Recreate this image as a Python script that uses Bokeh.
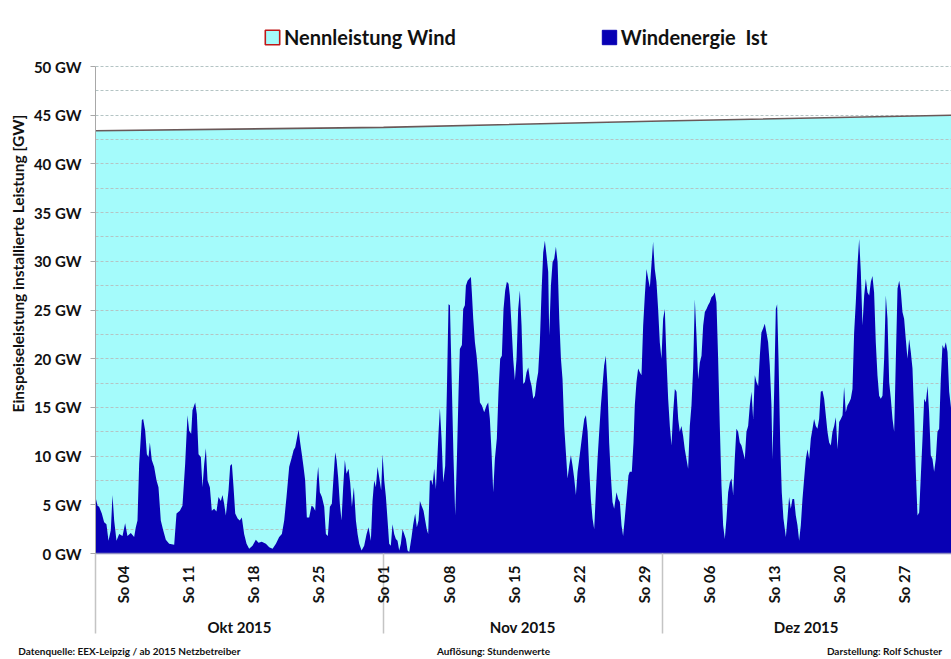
from math import pi
from bokeh.plotting import figure
from bokeh.models import (Range1d, FixedTicker, LinearAxis, PrintfTickFormatter,
                          Legend, LegendItem, Title)
from bokeh.embed import file_html
from bokeh.resources import INLINE

# ---------------- data (days since 1 Oct 2015 00:00, GW) ----------------
wind_day = [
    0.0, 0.22, 0.39, 0.68, 0.93, 1.18, 1.4, 1.65, 1.83, 2.01, 2.26, 2.55, 2.91, 3.19, 3.44, 3.8,
    4.16, 4.34, 4.52, 4.7, 4.99, 5.13, 5.35, 5.53, 5.71, 5.85, 6.06, 6.31, 6.57, 6.78, 7.03, 7.28,
    7.57, 7.93, 8.47, 8.72, 9.08, 9.36, 9.65, 9.9, 10.08, 10.3, 10.44, 10.73, 10.91, 11.09, 11.34,
    11.52, 11.7, 11.88, 12.06, 12.31, 12.52, 12.77, 13.02, 13.24, 13.49, 13.67, 13.85, 14.03, 14.32,
    14.5, 14.68, 14.86, 15.04, 15.3, 15.53, 15.75, 16.0, 16.26, 16.54, 16.9, 17.26, 17.55, 17.9,
    18.34, 18.7, 19.06, 19.42, 19.77, 20.06, 20.31, 20.56, 20.85, 21.14, 21.32, 21.5, 21.68, 21.86,
    22.03, 22.21, 22.39, 22.57, 22.75, 23.0, 23.25, 23.43, 23.65, 23.83, 23.97, 24.15, 24.37, 24.62,
    24.8, 25.01, 25.23, 25.44, 25.62, 25.8, 25.95, 26.12, 26.3, 26.48, 26.66, 26.84, 27.02, 27.24,
    27.42, 27.6, 27.81, 28.03, 28.21, 28.39, 28.64, 28.92, 29.18, 29.39, 29.64, 29.82, 30.0, 30.18,
    30.36, 30.54, 30.75, 30.9, 31.08, 31.26, 31.44, 31.61, 31.79, 31.97, 32.15, 32.33, 32.51, 32.69,
    32.87, 33.05, 33.23, 33.41, 33.59, 33.77, 34.02, 34.2, 34.41, 34.59, 34.77, 34.92, 35.1, 35.31,
    35.49, 35.67, 35.81, 35.99, 36.17, 36.28, 36.46, 36.64, 36.93, 37.07, 37.25, 37.43, 37.64, 37.82,
    38.0, 38.15, 38.33, 38.54, 38.72, 38.9, 39.08, 39.22, 39.44, 39.58, 39.76, 39.87, 40.05, 40.23,
    40.41, 40.51, 40.66, 40.84, 41.02, 41.2, 41.38, 41.59, 41.84, 42.09, 42.27, 42.45, 42.63, 42.81,
    42.99, 43.2, 43.38, 43.56, 43.74, 43.92, 44.1, 44.28, 44.46, 44.6, 44.78, 44.96, 45.14, 45.32,
    45.5, 45.68, 45.86, 46.04, 46.22, 46.4, 46.58, 46.76, 46.94, 47.12, 47.3, 47.47, 47.65, 47.83,
    48.01, 48.19, 48.37, 48.55, 48.73, 48.84, 49.02, 49.2, 49.38, 49.56, 49.74, 49.92, 50.1, 50.27,
    50.45, 50.63, 50.81, 50.99, 51.17, 51.35, 51.53, 51.71, 51.89, 52.07, 52.25, 52.43, 52.61, 52.79,
    52.97, 53.14, 53.32, 53.5, 53.68, 53.86, 54.04, 54.22, 54.4, 54.57, 54.75, 54.93, 55.11, 55.29,
    55.47, 55.65, 55.83, 56.08, 56.26, 56.44, 56.62, 56.79, 56.97, 57.15, 57.37, 57.51, 57.73, 57.91,
    58.05, 58.23, 58.41, 58.59, 58.77, 58.95, 59.13, 59.31, 59.49, 59.67, 59.84, 60.02, 60.2, 60.38,
    60.56, 60.74, 60.92, 61.1, 61.28, 61.46, 61.64, 61.82, 62.0, 62.18, 62.36, 62.54, 62.72, 62.89,
    63.07, 63.25, 63.43, 63.61, 63.79, 63.97, 64.15, 64.33, 64.51, 64.69, 64.87, 65.05, 65.23, 65.41,
    65.59, 65.77, 65.94, 66.12, 66.3, 66.48, 66.66, 66.84, 67.02, 67.2, 67.38, 67.56, 67.74, 67.92,
    68.1, 68.28, 68.46, 68.64, 68.81, 68.99, 69.17, 69.35, 69.53, 69.71, 69.89, 70.07, 70.25, 70.43,
    70.61, 70.79, 70.97, 71.15, 71.33, 71.51, 71.68, 71.86, 72.04, 72.22, 72.4, 72.58, 72.76, 72.87,
    73.05, 73.23, 73.37, 73.52, 73.7, 73.87, 74.05, 74.31, 74.48, 74.66, 74.84, 75.02, 75.2, 75.38,
    75.56, 75.74, 75.92, 76.1, 76.28, 76.46, 76.64, 76.82, 77.0, 77.18, 77.35, 77.53, 77.71, 77.89,
    78.07, 78.25, 78.43, 78.61, 78.79, 78.97, 79.15, 79.33, 79.51, 79.69, 79.87, 80.05, 80.23, 80.41,
    80.58, 80.76, 80.94, 81.12, 81.3, 81.48, 81.66, 81.84, 82.02, 82.2, 82.38, 82.56, 82.74, 82.92,
    83.1, 83.28, 83.46, 83.63, 83.81, 83.99, 84.17, 84.35, 84.53, 84.71, 84.89, 85.07, 85.25, 85.43,
    85.61, 85.79, 85.97, 86.15, 86.33, 86.51, 86.68, 86.86, 87.04, 87.22, 87.4, 87.58, 87.76, 87.94,
    88.12, 88.3, 88.48, 88.66, 88.84, 89.02, 89.2, 89.38, 89.56, 89.73, 89.91, 90.09, 90.27, 90.45,
    90.63, 90.81, 90.99, 91.17, 91.35, 91.53, 91.71, 91.89, 92.14,
]
wind_gw = [
    5.8, 4.9, 4.8, 4.1, 3.2, 3.0, 1.3, 2.4, 6.0, 3.4, 1.3, 2.0, 1.8, 3.1, 1.8, 2.1,
    1.7, 2.7, 3.4, 9.2, 13.7, 13.8, 12.6, 10.2, 9.9, 11.4, 9.6, 8.9, 7.5, 6.8, 3.4, 2.4,
    1.4, 1.0, 0.9, 4.1, 4.4, 4.9, 9.2, 14.2, 12.6, 12.3, 14.7, 15.5, 14.3, 10.2, 9.9,
    6.8, 9.2, 10.8, 7.5, 6.8, 4.4, 4.6, 4.3, 5.8, 5.4, 6.0, 5.1, 3.9, 6.5,
    9.0, 9.2, 6.8, 4.1, 3.6, 3.4, 3.7, 2.0, 1.0, 0.5, 0.8, 1.4, 1.1, 1.2,
    1.0, 0.65, 0.5, 1.0, 1.7, 2.0, 3.4, 5.8, 8.9, 9.9, 10.6, 10.9, 11.8, 12.7,
    11.4, 10.2, 8.9, 7.5, 3.7, 3.7, 4.9, 4.8, 4.4, 7.5, 8.9, 6.3, 5.8, 4.8,
    2.0, 1.8, 4.8, 5.1, 7.8, 10.4, 9.6, 7.8, 5.1, 3.4, 6.8, 9.6, 8.2, 8.7,
    7.2, 4.8, 6.8, 3.4, 2.0, 1.0, 0.3, 0.8, 2.0, 2.7, 1.3, 5.4, 7.5, 6.8,
    8.9, 7.8, 6.5, 10.2, 7.5, 5.8, 3.4, 1.0, 0.8, 3.0, 2.0, 1.5, 1.3, 0.3,
    1.0, 2.5, 2.0, 1.5, 0.3, 0.15, 1.7, 3.0, 4.1, 2.7, 3.4, 5.4, 4.9, 4.4,
    3.4, 2.4, 2.0, 7.5, 7.5, 7.0, 8.7, 6.6, 12.5, 14.9, 11.8, 7.3, 9.0, 16.6,
    25.6, 25.5, 18.3, 9.7, 3.9, 9.7, 16.6, 21.0, 21.4, 25.1, 25.5, 27.5, 28.0, 28.2,
    28.4, 26.8, 24.1, 21.7, 20.3, 18.3, 15.5, 15.2, 14.5, 15.2, 15.5, 13.8, 10.4, 6.3,
    9.7, 11.8, 16.6, 20.0, 20.3, 25.1, 27.0, 27.9, 27.7, 26.5, 23.4, 20.0, 17.8, 20.0,
    25.1, 27.0, 23.4, 17.4, 17.6, 18.6, 19.1, 17.9, 17.2, 15.9, 16.2, 17.6, 18.6, 21.7,
    26.8, 30.9, 32.1, 30.6, 28.9, 22.4, 27.5, 29.9, 30.3, 31.5, 29.9, 24.1, 20.0, 17.9,
    13.1, 10.4, 7.7, 9.0, 10.1, 9.0, 7.7, 6.0, 8.4, 9.7, 11.1, 12.5, 13.8, 14.2,
    12.5, 8.7, 5.6, 3.6, 2.5, 6.3, 9.7, 12.5, 15.2, 17.2, 19.3, 20.3, 17.2, 11.4,
    8.0, 5.3, 4.6, 6.3, 5.6, 5.3, 2.9, 1.8, 3.6, 5.6, 8.0, 8.4, 8.4, 11.4,
    15.2, 17.6, 19.0, 18.6, 18.3, 23.4, 26.5, 29.2, 28.2, 27.3, 29.6, 32.0, 29.2, 27.9,
    25.1, 21.7, 20.0, 24.1, 25.1, 20.0, 15.9, 13.1, 11.1, 14.5, 16.9, 16.6, 13.8, 12.5,
    13.1, 12.1, 10.7, 9.7, 8.7, 13.1, 15.2, 19.0, 26.1, 22.4, 17.9, 19.6, 20.3, 23.4,
    24.8, 25.1, 25.5, 25.8, 26.3, 26.5, 26.8, 25.8, 20.0, 13.1, 7.0, 2.9, 1.5, 3.6,
    6.3, 7.3, 7.7, 6.0, 9.7, 12.8, 12.5, 11.4, 11.1, 10.4, 9.7, 12.5, 13.1, 15.2,
    16.6, 13.8, 18.3, 17.6, 17.2, 20.3, 22.7, 23.1, 23.6, 22.7, 21.7, 19.3, 15.2, 9.7,
    16.6, 25.1, 25.6, 20.0, 11.4, 6.3, 3.6, 1.7, 3.6, 5.8, 4.6, 5.6, 5.6, 3.9,
    2.9, 1.3, 2.9, 5.6, 7.7, 9.7, 10.7, 9.7, 11.8, 12.8, 13.8, 13.1, 12.8, 13.8,
    16.6, 16.7, 15.9, 14.2, 12.5, 11.4, 11.1, 12.5, 13.1, 14.0, 10.7, 13.5, 13.8, 14.2,
    17.1, 14.5, 15.2, 15.5, 15.9, 16.9, 22.7, 25.8, 29.6, 32.3, 28.9, 23.4, 26.5, 28.2,
    26.8, 26.5, 27.9, 28.5, 26.8, 21.7, 18.3, 16.2, 15.9, 16.2, 20.0, 26.5, 24.1, 17.6,
    15.9, 13.8, 12.5, 20.0, 27.2, 28.0, 27.0, 24.8, 24.1, 22.0, 20.0, 22.0, 20.7, 19.0,
    14.2, 8.4, 3.9, 4.2, 8.0, 11.8, 15.9, 15.5, 17.2, 14.5, 10.1, 9.7, 8.4, 9.7,
    12.5, 12.8, 17.9, 21.4, 21.0, 21.7, 20.7, 16.6, 14.5,
]
cap_day = [0, 31, 61, 92.14]
cap_gw = [43.4, 43.75, 44.4, 45.0]

sunday_days = [3, 10, 17, 24, 31, 38, 45, 52, 59, 66, 73, 80, 87]
sunday_labels = ["So 04", "So 11", "So 18", "So 25", "So 01", "So 08", "So 15",
                 "So 22", "So 29", "So 06", "So 13", "So 20", "So 27"]
month_start_days = [0, 31, 61]
month_mid_days = [15.5, 46, 76.5]
month_labels = ["Okt 2015", "Nov 2015", "Dez 2015"]
y_major = [0, 5, 10, 15, 20, 25, 30, 35, 40, 45, 50]
y_minor = [2.5, 7.5, 12.5, 17.5, 22.5, 27.5, 32.5, 37.5, 42.5, 47.5]
footer_texts = ["Datenquelle:  EEX-Leipzig  /  ab 2015 Netzbetreiber",
                "Auflösung: Stundenwerte", "Darstellung: Rolf Schuster"]

# ---------------- styling / layout ----------------
FONT = "Lato"
CYAN = "#A4FBFB"
BLUE = "#0800B4"
TXT = "#111111"
W, H = 951, 659
Y_TOP = 553 / 9.74          # frame reaches the top edge: room for the legend
footer_at = [4.04, 42.84, 84.93]   # horizontal centres of the footer notes (x scale)

p = figure(width=W, height=H, output_backend="svg", toolbar_location=None,
           x_range=Range1d(0, 92.14), y_range=Range1d(0, Y_TOP),
           min_border_left=95, min_border_right=0, min_border_top=0,
           min_border_bottom=H - 553, outline_line_color=None,
           background_fill_color="white", border_fill_color="white")

# capacity area (below the grid), wind area (above the grid)
r_cap_area = p.varea(x=cap_day, y1=0, y2=cap_gw, fill_color=CYAN)
r_cap_area.level = "image"
p.line(x=cap_day, y=cap_gw, line_color="#6a5858", line_width=1.6)
p.varea(x=wind_day, y1=0, y2=wind_gw, fill_color=BLUE)

# legend swatches (zero-size rects sitting on the series; only the legend shows them)
leg_cap = p.rect(x=cap_day, y=cap_gw, width=0, height=0, fill_color=CYAN,
                 line_color="#C01818", line_width=1.6)
leg_wind = p.rect(x=wind_day, y=wind_gw, width=0, height=0, fill_color=BLUE,
                  line_color=BLUE, line_width=1)

# y axis
yt = FixedTicker(ticks=y_major, minor_ticks=y_minor)
ya = p.yaxis[0]
ya.ticker = yt
ya.bounds = (0, 50)
ya.formatter = PrintfTickFormatter(format="%d GW")
ya.axis_line_color = "#A8A8A8"
ya.major_tick_line_color = "#A8A8A8"
ya.major_tick_out = 5
ya.major_tick_in = 0
ya.minor_tick_out = 0
ya.minor_tick_in = 0
ya.major_label_standoff = 9
ya.major_label_text_font = FONT
ya.major_label_text_font_style = "bold"
ya.major_label_text_font_size = "15px"
ya.major_label_text_color = TXT

p.ygrid.ticker = yt
p.ygrid.grid_line_color = "#B4C4C4"
p.ygrid.grid_line_dash = "3 2"
p.ygrid.minor_grid_line_color = "#B4C4C4"
p.ygrid.minor_grid_line_dash = "3 2"
p.xgrid.visible = False

# y axis title
p.add_layout(Title(text="Einspeiseleistung installierte Leistung [GW]", align="left",
                   offset=141, standoff=7, text_font=FONT, text_font_style="bold",
                   text_font_size="15.5px", text_color=TXT), "left")

# x axis: Sundays + month separators (minor ticks)
SEP = 80
xa = p.xaxis[0]
xa.ticker = FixedTicker(ticks=sunday_days, minor_ticks=month_start_days)
xa.major_label_overrides = {d: s for d, s in zip(sunday_days, sunday_labels)}
xa.major_label_orientation = pi / 2
xa.major_label_standoff = 12 - SEP
xa.major_tick_out = 0
xa.major_tick_in = 0
xa.minor_tick_in = 0
xa.minor_tick_out = SEP
xa.minor_tick_line_color = "#C4C4C4"
xa.minor_tick_line_width = 1.5
xa.axis_line_color = "#8C8CC0"
xa.axis_line_width = 1.5
xa.major_label_text_font = FONT
xa.major_label_text_font_style = "bold"
xa.major_label_text_font_size = "15px"
xa.major_label_text_color = TXT

# month axis
ma = LinearAxis(ticker=FixedTicker(ticks=month_mid_days),
                major_label_overrides={d: s for d, s in zip(month_mid_days, month_labels)},
                axis_line_color=None, major_tick_line_color=None,
                minor_tick_line_color=None, major_label_standoff=5,
                major_label_text_font=FONT, major_label_text_font_style="bold",
                major_label_text_font_size="15px", major_label_text_color=TXT)
p.add_layout(ma, "below")

# footer notes
fa = LinearAxis(ticker=FixedTicker(ticks=footer_at),
                major_label_overrides={d: s for d, s in zip(footer_at, footer_texts)},
                axis_line_color=None, major_tick_line_color=None,
                minor_tick_line_color=None, major_label_standoff=0,
                major_label_text_font=FONT, major_label_text_font_style="bold",
                major_label_text_font_size="10px", major_label_text_color=TXT)
p.add_layout(fa, "below")

# legend (inside the frame, above the 50 GW line)
legend = Legend(items=[LegendItem(label="Nennleistung Wind", renderers=[leg_cap]),
                       LegendItem(label="Windenergie  Ist", renderers=[leg_wind])],
                orientation="horizontal", location=(168, 504), padding=0, margin=0,
                spacing=144, glyph_width=18, glyph_height=18, label_standoff=3,
                label_text_font=FONT, label_text_font_style="bold",
                label_text_font_size="20px", label_text_color=TXT,
                background_fill_alpha=0, border_line_color=None)
p.add_layout(legend, "center")

open("out.html", "w").write(file_html(p, INLINE))
